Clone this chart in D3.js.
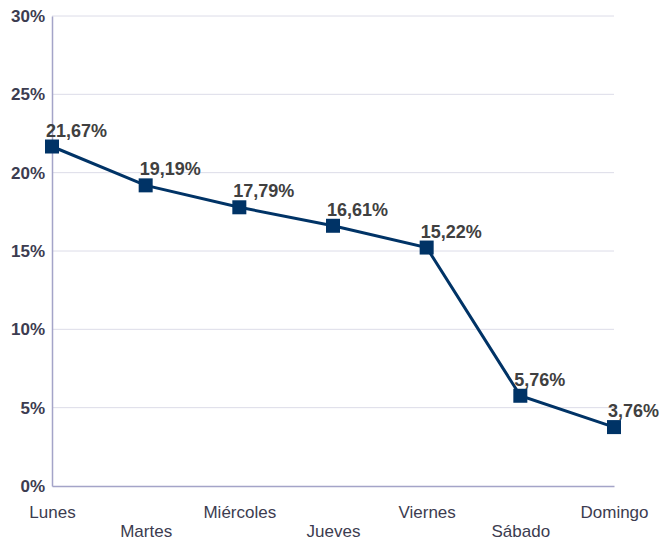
<html>
<head>
<meta charset="utf-8">
<script src="https://d3js.org/d3.v7.min.js"></script>
<style>
  body { margin: 0; background: #fff; }
  svg text { font-family: "Liberation Sans", Arial, sans-serif; }
</style>
</head>
<body>
<div id="chart"></div>
<script>
  // data
  let days = ["Lunes", "Martes", "Miércoles", "Jueves", "Viernes", "Sábado", "Domingo"];
  let shares = [21.67, 19.19, 17.79, 16.61, 15.22, 5.76, 3.76];
  let yTicks = [0, 5, 10, 15, 20, 25, 30];

  let width = 662, height = 542;
  let margin = {top: 16, right: 48, bottom: 56, left: 52};

  let svg = d3.select("#chart").append("svg")
      .attr("width", width)
      .attr("height", height);

  let x = d3.scalePoint()
      .domain(days)
      .range([margin.left, width - margin.right]);

  let y = d3.scaleLinear()
      .domain([0, 30])
      .range([height - margin.bottom, margin.top]);

  // gridlines
  svg.append("g")
    .selectAll("line")
    .data(yTicks.filter(d => d > 0))
    .join("line")
      .attr("x1", margin.left)
      .attr("x2", width - margin.right)
      .attr("y1", d => y(d))
      .attr("y2", d => y(d))
      .attr("stroke", "#dcdce8")
      .attr("stroke-width", 1);

  // y axis
  let yAxis = d3.axisLeft(y).tickValues(yTicks).tickSize(0).tickPadding(7)
      .tickFormat(d => d + "%");
  let yG = svg.append("g")
      .attr("transform", `translate(${margin.left},0)`)
      .call(yAxis);
  yG.select(".domain").attr("stroke", "#a4a4c8").attr("stroke-width", 1.5);
  yG.selectAll("text")
      .attr("font-size", 17)
      .attr("font-weight", "bold")
      .attr("fill", "#3c3c50")
      .attr("font-family", "Liberation Sans, Arial, sans-serif");

  // x axis, labels staggered on two rows
  let xAxis = d3.axisBottom(x).tickSize(0).tickPadding(0);
  let xG = svg.append("g")
      .attr("transform", `translate(0,${height - margin.bottom})`)
      .call(xAxis);
  xG.select(".domain").attr("stroke", "#a4a4c8").attr("stroke-width", 1.5);
  xG.selectAll("text")
      .attr("font-size", 17)
      .attr("fill", "#3c3c50")
      .attr("font-family", "Liberation Sans, Arial, sans-serif")
      .attr("dy", null)
      .attr("y", (d, i) => i % 2 === 0 ? 32 : 51);

  // line
  let line = d3.line()
      .x((d, i) => x(days[i]))
      .y(d => y(d));

  svg.append("path")
      .datum(shares)
      .attr("d", line)
      .attr("fill", "none")
      .attr("stroke", "#003366")
      .attr("stroke-width", 3);

  // markers
  svg.append("g")
    .selectAll("rect")
    .data(shares)
    .join("rect")
      .attr("x", (d, i) => x(days[i]) - 7)
      .attr("y", d => y(d) - 7)
      .attr("width", 14)
      .attr("height", 14)
      .attr("fill", "#003366");

  // value labels
  svg.append("g")
    .selectAll("text")
    .data(shares)
    .join("text")
      .attr("x", (d, i) => x(days[i]) - 6)
      .attr("y", d => y(d) - 10)
      .attr("font-size", 18)
      .attr("font-weight", "bold")
      .attr("fill", "#404040")
      .text(d => d.toFixed(2).replace(".", ",") + "%");
</script>
</body>
</html>
